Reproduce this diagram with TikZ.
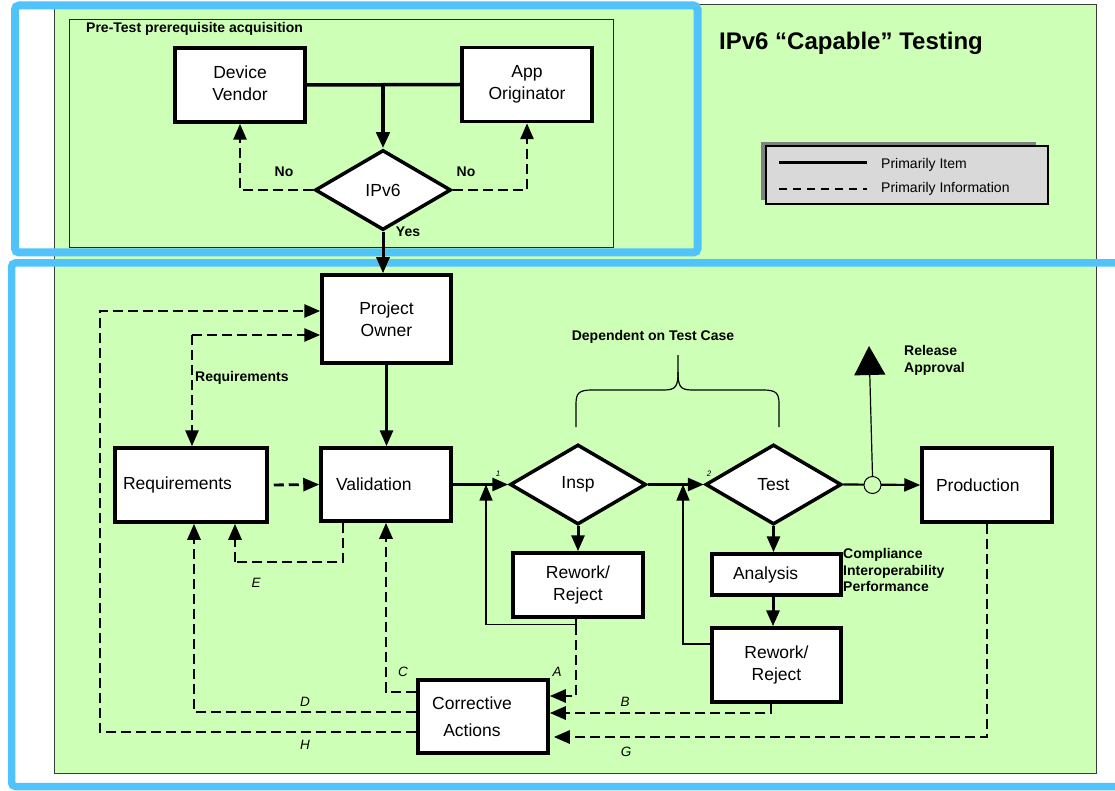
\documentclass[tikz,border=0pt]{standalone}
\usepackage{fontspec}
\setmainfont{Liberation Sans}
\usetikzlibrary{arrows.meta,shapes.geometric,calc}

\definecolor{bgreen}{RGB}{206,255,182}
\definecolor{frameblue}{RGB}{80,195,250}
\definecolor{legendgray}{RGB}{217,217,217}
\definecolor{shadowgray}{RGB}{128,128,128}
\definecolor{edgegray}{RGB}{60,60,60}

\newcommand\boxfont{\fontsize{17.5}{21.5}\selectfont}
\newcommand\lblfont{\fontsize{14}{17}\selectfont\bfseries}
\newcommand\letterfont{\fontsize{13.5}{16}\selectfont\itshape}
\newcommand\legfont{\fontsize{14}{16}\selectfont}

\tikzset{
  box/.style={draw, line width=3.5pt, fill=white, minimum width=130pt,
    minimum height=74pt, align=center, font=\boxfont, inner sep=0pt},
  boxtxt/.style={align=center, font=\boxfont, inner sep=0pt},
  dia/.style={diamond, draw, line width=3.5pt, fill=white, minimum width=136pt,
    minimum height=80pt, inner sep=0pt, font=\boxfont},
  item/.style={line width=3pt},
  info/.style={line width=2.8pt, dash pattern=on 10pt off 5pt},
  back/.style={line width=1.3pt},
  lbl/.style={font=\lblfont, inner sep=0pt},
  letter/.style={font=\letterfont, inner sep=0pt},
  >={Triangle[length=16pt,width=13pt]}
}

\begin{document}
\begin{tikzpicture}[x=1pt,y=-1pt]
\useasboundingbox (0,0) rectangle (1115,791);
\clip (0,0) rectangle (1115,791);

% page and green panel
\fill[white] (0,0) rectangle (1115,791);
\draw[edgegray, line width=1pt, fill=bgreen] (54,5) rectangle (1096,773);

% pre-test panel
\draw[black!85, line width=0.8pt] (69,19) rectangle (613,247);
\node[lbl, anchor=west] (pretitle) at (86,29) {Pre-Test prerequisite acquisition};

% title
\node[font=\fontsize{24}{28}\selectfont\bfseries, inner sep=0pt, anchor=west] (title) at (719,43) {IPv6 “Capable” Testing};

% legend
\fill[shadowgray] (761,142) rectangle (1036,200);
\draw[line width=1.5pt, fill=legendgray] (766,146) rectangle (1048,204);
\coordinate (ls1) at (779,163); \coordinate (le1) at (867,163);
\coordinate (ls2) at (779,189); \coordinate (le2) at (867,189);
\draw[line width=3pt] (ls1) -- (le1);
\draw[line width=2.5pt, dash pattern=on 8pt off 6pt] (ls2) -- (le2);
\node[font=\legfont, inner sep=0pt, anchor=west] (leg1) at (881,165) {Primarily Item};
\node[font=\legfont, inner sep=0pt, anchor=west] (leg2) at (881,189) {Primarily Information};

% blue frames
\draw[frameblue, line width=8pt, rounded corners=4pt] (15,5.5) rectangle (697.5,252.5);
\draw[frameblue, line width=7.5pt, rounded corners=4pt] (11.5,263) rectangle (1140,786.5);

% pre-test nodes
\node[box] (dv) at (240,85) {Device\\Vendor\vphantom{p}};
\node[box] (app) at (527,84.5) {App\\Originator};
\node[dia] (ipv6) at (383,190) {IPv6};
\coordinate (jt) at (383,85);

% main flow nodes
\node[box, minimum width=129pt, minimum height=88pt] (po) at (386.5,319) {Project\\Owner};
\node[box, minimum width=152pt, text width=136pt, align=left] (req) at (191,485) {Requirements};
\node[box, minimum height=73pt, text width=100pt, align=left] (val) at (386,484.5) {Validation};
\node[dia] (insp) at (578,484.5) {Insp};
\node[dia] (test) at (773.5,484.5) {Test};
\node[box, text width=102pt, align=left] (prod) at (987,485) {Production};
\node[box, minimum height=64pt] (rw1) at (578,585) {Rework/\\Reject};
\node[box, minimum width=129pt, minimum height=41pt, text width=87pt, align=left] (an) at (776.5,574.5) {Analysis};
\node[box, minimum width=129pt] (rw2) at (776.5,665) {Rework/\\Reject};
\node[box, minimum height=73pt] (ca) at (483,716.5) {};
\node[boxtxt] (catext) at (472,716.5) {Corrective\\[5pt]Actions};

% pre-test connectors
\draw[line width=3.5pt] (dv.east) -- (app.west);
\draw[line width=4pt, ->] (jt) -- (ipv6.north);
\draw[info, ->] (ipv6.west) -| (dv.south);
\draw[info, ->] (ipv6.east) -| (app.south);
\draw[item, ->] (ipv6.south) -- (ipv6.south |- po.north);
\node[lbl] (nol) at (284,172) {No};
\node[lbl] (nor) at (466,172) {No};
\node[lbl] (yes) at (408,232) {Yes};

% requirements loop
\coordinate (rq) at (192,335);
\draw[info, ->] (rq) -- (rq -| po.west);
\draw[info, ->] (rq) -- (rq |- req.north);
\node[lbl, anchor=west] (rqlbl) at (195,378) {Requirements};

% item flow
\draw[item, ->] (po.south) -- (po.south |- val.north);
\draw[info, ->, shorten <=5pt] (req.east) -- (val.west);
\draw[item, ->] (val.east) -- (insp.west);
\draw[item, ->] (insp.east) -- (test.west);
\draw[line width=2.2pt, ->] (test.east) -- (prod.west);
\draw[item, ->] (insp.south) -- (insp.south |- rw1.north);
\draw[item, ->] (test.south) -- (test.south |- an.north);
\draw[item, ->] ([xshift=-3.5pt]an.south) -- ([xshift=-3.5pt]rw2.north);
\node[font=\fontsize{8}{9}\selectfont\itshape, inner sep=0pt] (n1) at (498,474) {1};
\node[font=\fontsize{8}{9}\selectfont\itshape, inner sep=0pt] (n2) at (709,474) {2};

% rework returns
\coordinate (j1) at (486,484.5);
\coordinate (j2) at (683,484.5);
\coordinate (a0) at ($(rw1.south)+(-2,6)$);
\draw[back] ([xshift=-2pt]rw1.south) -- (a0);
\draw[back, ->] (a0) -| (j1);
\draw[back, ->] ($(rw2.west)+(0,-21)$) -| (j2);

% release approval
\node[circle, draw, line width=1pt, fill=bgreen, minimum size=17pt, inner sep=0pt] (rel) at (872.5,485) {};
\coordinate (reltip) at (869,346);
\draw[line width=1.2pt, -{Triangle[length=29pt,width=31pt]}] (rel.north) -- (reltip);
\node[lbl, anchor=west, align=left, font=\fontsize{14}{17}\selectfont\bfseries] (relt) at (904,360) {Release\\Approval};

% test case brace
\draw[line width=1.2pt] (576,427) -- (576,404) .. controls (576,393) and (579,390) .. (592,390)
  -- (664,390) .. controls (676,390) and (678,386) .. (678,372) -- (678,355);
\draw[line width=1.2pt] (779,427) -- (779,404) .. controls (779,393) and (776,390) .. (763,390)
  -- (692,390) .. controls (680,390) and (678,386) .. (678,372);
\node[lbl] (dep) at (653,337) {Dependent on Test Case};

\node[lbl, anchor=west, align=left, font=\fontsize{14}{16.5}\selectfont\bfseries] (cip) at (843,570) {Compliance\\Interoperability\\Performance};

% corrective action feedback
\draw[info, ->] (a0) |- ($(ca.east)+(0,-20.5)$);
\draw[info, ->] ([xshift=-5.5pt]rw2.south) |- ($(ca.east)+(0,-3.5)$);
\draw[info, ->, shorten >=4pt] (prod.south) |- ($(ca.east)+(0,20.5)$);
\coordinate (hc) at (100,311);
\draw[info, ->] ($(ca.west)+(0,15.5)$) -| (hc) -- (hc -| po.west);
\draw[info, ->] ($(ca.west)+(0,-4.5)$) -| ([xshift=3pt]req.south);
\draw[info, ->] ($(ca.west)+(0,-24.5)$) -| (val.south);
\coordinate (ec) at (235,562);
\draw[info] ([xshift=-43pt]val.south) |- (ec);
\draw[info, ->] (ec) -- (ec |- req.south);

\node[letter] (la) at (557,672) {A};
\node[letter] (lb) at (625,702) {B};
\node[letter] (lc) at (403,672) {C};
\node[letter] (ld) at (305,702) {D};
\node[letter] (le) at (256,583) {E};
\node[letter] (lg) at (626,752) {G};
\node[letter] (lh) at (305,745) {H};
\end{tikzpicture}
\end{document}
